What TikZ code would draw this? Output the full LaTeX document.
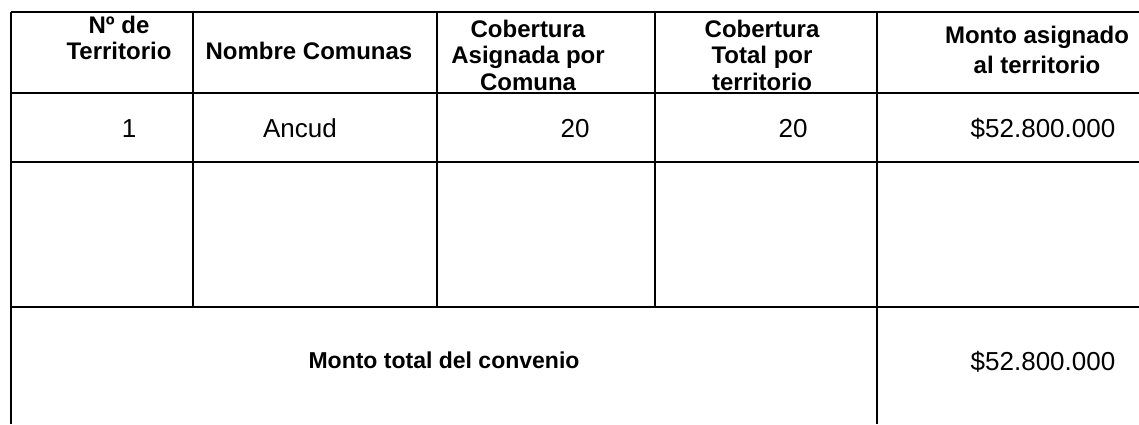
\documentclass[tikz,border=0pt]{standalone}
\usepackage{fontspec}
\setmainfont{Liberation Sans}
\usetikzlibrary{positioning}

\tikzset{
  rule/.style={line width=1.8pt},
  cell/.style={font=\fontsize{26}{30}\selectfont, inner sep=0pt, anchor=base},
  head/.style={font=\fontsize{24}{26.5}\selectfont\bfseries, align=center, inner sep=0pt}
}

\begin{document}
\begin{tikzpicture}[x=1pt, y=-1pt]
  \useasboundingbox (0,0) rectangle (1139,424);
  % table rules
  \foreach \y in {12,93,162,307}
    \draw[rule] (11,\y) -- (1139,\y);
  \foreach \x in {193,437,655}
    \draw[rule] (\x,12) -- (\x,307);
  \draw[rule] (11,12) -- (11,424)
              (877,12) -- (877,424);

  % header
  \node[head] (hterr) at (119,38) {Nº de\\Territorio};
  \node[head] (hnom)  at (309,51) {Nombre Comunas};
  \node[head] (hasig) at (528,55) {Cobertura\\Asignada por\\Comuna};
  \node[head] (htot)  at (762,55) {Cobertura\\Total por\\territorio};
  \node[head, font=\fontsize{24}{30}\selectfont\bfseries] (hmonto) at (1037,50) {Monto asignado\\al territorio};

  % row 1
  \node[cell] (terr1)  at (129,137)  {1};
  \node[cell] (nom1)   at (300,137)  {Ancud};
  \node[cell] (asig1)  at (575,137)  {20};
  \node[cell] (tot1)   at (793,137)  {20};
  \node[cell] (monto1) at (1043,137) {\$52.800.000};

  % total
  \node[head, anchor=base, font=\fontsize{23}{26}\selectfont\bfseries] (totlbl) at (444,368) {Monto total del convenio};
  \node[cell] (totval) at (1043,370) {\$52.800.000};
\end{tikzpicture}
\end{document}
